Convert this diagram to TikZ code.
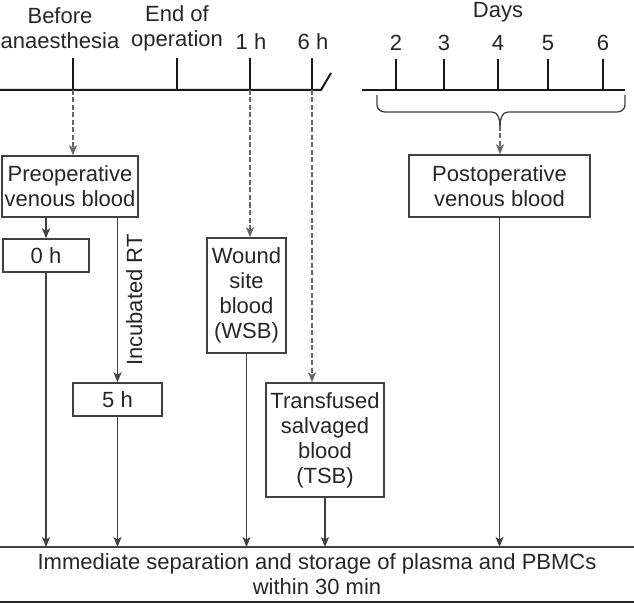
\documentclass[tikz,border=0pt]{standalone}
\usepackage{fontspec}
\setmainfont{Liberation Sans}
\usetikzlibrary{arrows.meta}

\begin{document}
\begin{tikzpicture}[x=1pt, y=-1pt, >={Stealth[length=10pt,width=8pt,inset=2.5pt]},
	every node/.style={font=\fontsize{22}{25}\selectfont, inner sep=0pt, text=black!85},
	axis/.style={line width=2pt, black!90},
	box/.style={draw=black!75, line width=1.4pt, align=center},
	flow/.style={->, line width=1.3pt, black!75},
	dashflow/.style={->, line width=1.4pt, black!60, dash pattern=on 5pt off 2.5pt}]
	\useasboundingbox (0,0) rectangle (634,604);
	%Operation timeline
	\coordinate (ta) at (0,90);
	\coordinate (tb) at (321,90);
	\draw[axis] (ta) -- (tb) -- (331,73);
	\coordinate (t0) at (73,90);
	\coordinate (t1) at (177,90);
	\coordinate (t2) at (250,90);
	\coordinate (t3) at (312,90);
	\foreach \t in {t0,t1,t2,t3}
		\draw[axis] (\t) -- ++(0,-32);
	\node (lbefore) at (60,28) [align=center] {Before\\anaesthesia};
	\node (lend) at (177,28) [align=center] {End of\\operation};
	\node (lone) at (251,42) {1 h};
	\node (lsix) at (313,42) {6 h};
	%Days timeline
	\coordinate (da) at (362,90);
	\coordinate (db) at (625,90);
	\draw[axis] (da) -- (db);
	\foreach \d/\x in {2/396,3/444,4/498,5/548,6/603} {
		\coordinate (d\d) at (\x,90);
		\draw[axis] (d\d) -- ++(0,-31);
		\node (ld\d) at (\x,43) {\d};
	}
	\node (ldays) at (498,12) {Days};
	%Brace
	\coordinate (brace) at (500,126);
	\draw[line width=1.3pt, black!75] (377,95) -- (377,105) to[out=-90,in=180] (385,112) -- (492,112)
		to[out=0,in=90] (brace);
	\draw[line width=1.3pt, black!75] (625,95) -- (625,105) to[out=-90,in=0] (617,112) -- (508,112)
		to[out=180,in=90] (brace);
	%Samples
	\node [box, minimum width=136pt, minimum height=61pt] (preop) at (70,186.5) {Preoperative\\venous blood};
	\node [box, minimum width=86pt, minimum height=33pt] (zero) at (46,255.5) {0 h};
	\node [box, minimum width=89pt, minimum height=33pt] (five) at (117.5,399.5) {5 h};
	\node [box, minimum width=79pt, minimum height=115pt] (wsb) at (246.5,295.5) {Wound\\site\\blood\\(WSB)};
	\node [box, minimum width=118pt, minimum height=114pt] (tsb) at (325,440) {Transfused\\salvaged\\blood\\(TSB)};
	\node [box, minimum width=181pt, minimum height=62pt] (postop) at (499.5,186) {Postoperative\\venous blood};
	%Sampling arrows
	\draw[dashflow] (t0) -- (t0 |- preop.north);
	\draw[dashflow] (t2) -- (t2 |- wsb.north);
	\draw[dashflow] (t3) -- (t3 |- tsb.north);
	\draw[dashflow] (brace) -- (brace |- postop.north);
	\draw[flow] (preop.south -| zero) -- (zero.north);
	\draw[flow] (preop.south -| five) -- (five.north)
		node [midway, right=8pt, rotate=90, anchor=north] {Incubated RT};
	%Storage
	\coordinate (sa) at (0,547);
	\coordinate (sb) at (634,547);
	\coordinate (sc) at (0,602);
	\coordinate (sd) at (634,602);
	\draw[line width=1.4pt, black!75] (sa) -- (sb);
	\draw[line width=1.8pt, black!85] (sc) -- (sd);
	\node (storage) at (317,574) [align=center] {Immediate separation and storage of plasma and PBMCs\\within 30 min};
	\draw[flow] (zero.south) -- (zero.south |- sa);
	\draw[flow] (five.south) -- (five.south |- sa);
	\draw[flow] (wsb.south) -- (wsb.south |- sa);
	\draw[flow] (tsb.south) -- (tsb.south |- sa);
	\draw[flow] (postop.south) -- (postop.south |- sa);
\end{tikzpicture}
\end{document}
